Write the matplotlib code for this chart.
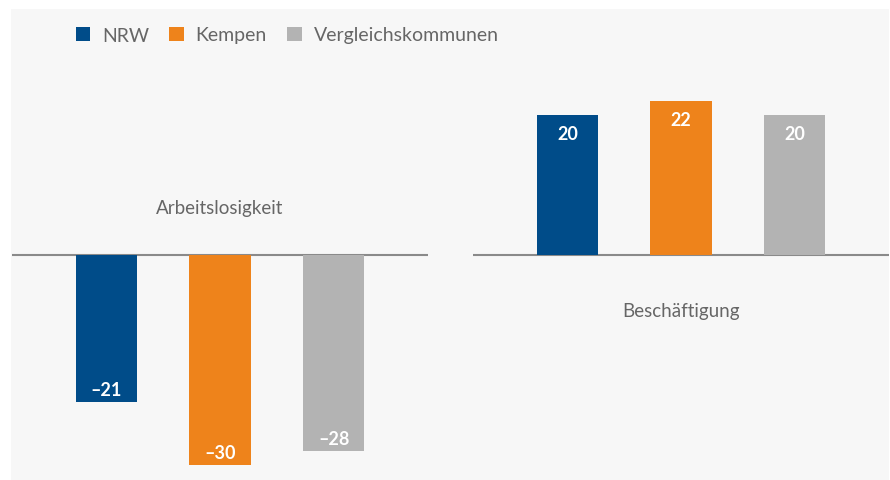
import matplotlib.pyplot as plt
from matplotlib.patches import Patch

plt.rcParams['font.family'] = ['Lato', 'DejaVu Sans']

series = ['NRW', 'Kempen', 'Vergleichskommunen']
colors = ['#004c89', '#ee831b', '#b3b3b3']
arbeitslosigkeit = [-21, -30, -28]
beschaeftigung = [20, 22, 20]
panels = ['Arbeitslosigkeit', 'Beschäftigung']

W, H = 890, 481
fig = plt.figure(figsize=(W / 100, H / 100), dpi=100, facecolor='white')

# grey panel behind the chart
bg = fig.add_axes([11 / W, -0.01, 878 / W, 471 / H + 0.01], zorder=-1)
bg.set_facecolor('#f7f7f7')
bg.set_xticks([])
bg.set_yticks([])
for s in bg.spines.values():
    s.set_visible(False)

def make_axes(x0, x1):
    ax = fig.add_axes([x0 / W, 0, (x1 - x0) / W, 471 / H])
    ax.patch.set_visible(False)
    ax.set_xlim(-0.83, 2.83)
    ax.set_ylim(-(481 - 256) / 7, (256 - 10) / 7)
    ax.axis('off')
    ax.axhline(0, color='#8a8a8a', lw=1.5, zorder=1)
    return ax

ax1 = make_axes(12, 428)
ax2 = make_axes(473, 889)

for ax, vals in [(ax1, arbeitslosigkeit), (ax2, beschaeftigung)]:
    ax.bar(range(3), vals, width=0.54, color=colors, zorder=2)
    for i, v in enumerate(vals):
        off = -2.6 if v > 0 else 1.8
        ax.text(i, v + off, f'{v}'.replace('-', '–'), ha='center', va='center',
                color='white', fontsize=13, fontweight='bold', zorder=3)

ax1.text(1.0, 6.8, panels[0], ha='center', va='center', fontsize=13.5, color='#666666')
ax2.text(1.0, -7.9, panels[1], ha='center', va='center', fontsize=13.5, color='#666666')

handles = [Patch(facecolor=c, edgecolor='none') for c in colors]
fig.legend(handles, series, loc='center left', bbox_to_anchor=(58 / W, 1 - 36 / H),
           ncol=3, frameon=False, fontsize=14, handlelength=0.75, handleheight=0.75,
           handletextpad=0.6, columnspacing=1.05, labelcolor='#666666')

fig.savefig('out.png', dpi=100, facecolor='white')
